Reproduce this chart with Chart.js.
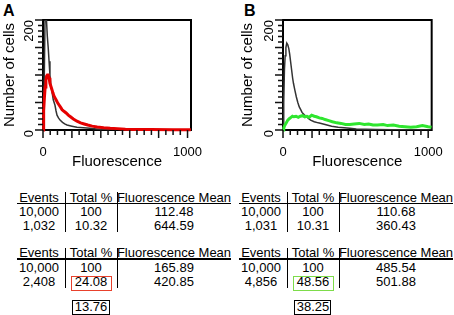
<!DOCTYPE html>
<html>
<head>
<meta charset="utf-8">
<script src="https://cdn.jsdelivr.net/npm/chart.js@4.4.0/dist/chart.umd.min.js"></script>
<style>
  html, body { margin: 0; padding: 0; background: #fff; }
  #page { position: relative; width: 454px; height: 315px; overflow: hidden; font-family: Arial, "Liberation Sans", sans-serif; color: #000; }
  .chart-box { position: absolute; top: 0; width: 227px; height: 171px; }
  .letter { position: absolute; font-weight: bold; font-size: 16px; line-height: 16px; }
  .cell { position: absolute; width: 120px; text-align: center; font-size: 13px; line-height: 14px; white-space: nowrap; }
  .rule { position: absolute; background: #000; }
  .box { position: absolute; box-sizing: border-box; }
</style>
</head>
<body>
<div id="page">
  <div class="letter" style="left:3px;top:3px">A</div>
  <div class="letter" style="left:244px;top:3px">B</div>
  <div class="chart-box" style="left:0"><canvas id="chart-a"></canvas></div>
  <div class="chart-box" style="left:227px"><canvas id="chart-b"></canvas></div>
</div>
<script>
// histogram A: control (black) and stained (red)
const fluorACtrl = [0, 6, 10, 14, 24, 30, 36, 42, 48, 55, 62, 71, 83, 90, 97, 107, 118, 135, 150, 166, 200, 235, 280, 325, 370, 420, 480, 550, 1023];
const cellsACtrl = [0, 40, 120, 200, 200, 170, 150, 125, 100, 80, 70, 55, 45, 35, 27, 22, 18, 14, 11, 9, 7, 5, 4, 3, 2, 1, 1, 0, 0];
const fluorAStain = [0, 3, 6, 10, 15, 20, 25, 30, 36, 42, 48, 54, 60, 68, 76, 84, 92, 100, 110, 120, 132, 145, 160, 175, 190, 210, 235, 260, 285, 310, 340, 375, 420, 465, 515, 570, 640, 750, 900, 1023];
const cellsAStain = [0, 15, 35, 60, 78, 90, 98, 100, 100, 95, 85, 80, 75, 68, 62, 58, 54, 50, 46, 42, 37, 34, 31, 27, 24, 20, 16, 13, 11, 9, 7, 5.5, 4, 3, 2.5, 1.5, 1, 1, 0.5, 0.5];

// histogram B: control (black) and stained (green)
const fluorBCtrl = [0, 5, 10, 15, 20, 26, 33, 40, 46, 52, 59, 66, 72, 82, 92, 102, 112, 122, 131, 145, 158, 175, 190, 215, 243, 290, 335, 380, 420, 460, 505, 570, 637, 750, 1023];
const cellsBCtrl = [0, 50, 110, 135, 150, 158, 155, 148, 138, 125, 110, 95, 85, 72, 60, 50, 42, 37, 32, 28, 25, 21, 18, 15, 13, 10, 7, 5, 4, 3, 2, 1.5, 1, 0.5, 0];
const fluorBStain = [0, 5, 10, 20, 33, 45, 55, 65, 75, 90, 105, 120, 135, 150, 165, 180, 197, 215, 230, 250, 270, 290, 315, 340, 370, 400, 430, 460, 490, 525, 560, 590, 620, 650, 690, 720, 760, 800, 840, 880, 920, 960, 1000, 1023];
const cellsBStain = [0, 3, 7, 12, 18, 21, 23, 25, 24, 25, 23, 25, 26, 24, 25, 23, 27, 25, 24, 22, 21, 19, 17, 15, 13, 12, 10, 10, 11, 12, 10, 11, 9, 9, 10, 8, 9, 7, 6, 5, 6, 8, 6, 5];

const xTicks = [0, 50, 100, 150, 200, 250, 300, 350, 400, 450, 500, 550, 600, 650, 700, 750, 800, 850, 900, 950, 1000];
const yTicks = [0, 10, 20, 30, 40, 50, 60, 70, 80, 90, 100, 110, 120, 130, 140, 150, 160, 170, 180, 190, 200];
const xLabels = [0, 1000];
const yLabels = [0, 200];

// tables under the plots
const tableHeader = ["Events", "Total %", "Fluorescence Mean"];
const tableA1 = [["10,000", "100", "112.48"], ["1,032", "10.32", "644.59"]];
const tableA2 = [["10,000", "100", "165.89"], ["2,408", "24.08", "420.85"]];
const tableB1 = [["10,000", "100", "110.68"], ["1,031", "10.31", "360.43"]];
const tableB2 = [["10,000", "100", "485.54"], ["4,856", "48.56", "501.88"]];
const differenceA = "13.76";
const differenceB = "38.25";

Chart.defaults.font.family = "Arial, 'Liberation Sans', sans-serif";
Chart.defaults.color = "#000";

// black frame around the plot area
const framePlugin = {
    id: "frame",
    beforeDatasetsDraw(chart) {
        const { ctx, chartArea: a } = chart;
        ctx.save();
        ctx.strokeStyle = "#000";
        ctx.lineWidth = 2;
        ctx.strokeRect(a.left, a.top, a.right - a.left, a.bottom - a.top);
        ctx.restore();
    },
};

// minor / major tick marks outside the axes
const tickPlugin = {
    id: "tickMarks",
    afterDatasetsDraw(chart) {
        const ctx = chart.ctx;
        const xs = chart.scales.x;
        const ys = chart.scales.y;
        const a = chart.chartArea;
        ctx.save();
        ctx.strokeStyle = "#111";
        ctx.lineWidth = 1.5;
        ctx.beginPath();
        xTicks.forEach((v) => {
            const px = xs.getPixelForValue(v);
            const len = v % 200 === 0 ? 8 : 5;
            ctx.moveTo(px, a.bottom);
            ctx.lineTo(px, a.bottom + len);
        });
        yTicks.forEach((v) => {
            const py = ys.getPixelForValue(v);
            const len = v % 50 === 0 ? 8 : 5;
            ctx.moveTo(a.left, py);
            ctx.lineTo(a.left - len, py);
        });
        ctx.stroke();
        ctx.restore();
    },
};

function makeLine(label, xs, ys, color, width, noClip) {
    const ds = {
        label: label,
        data: xs.map((v, i) => ({ x: v, y: ys[i] })),
        borderColor: color,
        borderWidth: width,
        pointRadius: 0,
        tension: 0,
    };
    if (noClip) ds.clip = false;
    return ds;
}

function createHistogram(id, datasets, padLeft, padRight, yWidth, titlePad) {
    new Chart(document.getElementById(id), {
        type: "line",
        data: { datasets: datasets },
        plugins: [framePlugin, tickPlugin],
        options: {
            responsive: true,
            maintainAspectRatio: false,
            animation: false,
            layout: { padding: { left: padLeft, right: padRight, top: 20, bottom: 0 } },
            plugins: { legend: { display: false }, tooltip: { enabled: false } },
            scales: {
                x: {
                    type: "linear",
                    min: 0,
                    max: 1024,
                    afterBuildTicks: (s) => { s.ticks = xTicks.map((v) => ({ value: v })); },
                    afterFit: (s) => { s.height = 41; },
                    ticks: {
                        autoSkip: false,
                        maxRotation: 0,
                        padding: 11,
                        font: { size: 13 },
                        callback: (v) => (xLabels.includes(v) ? String(v) : ""),
                    },
                    grid: { drawOnChartArea: false, drawTicks: true, tickLength: 4, tickColor: "rgba(0,0,0,0)" },
                    border: { color: "#000", width: 2 },
                    title: { display: true, text: "Fluorescence", font: { size: 15 }, padding: { top: 0, bottom: 0 } },
                },
                y: {
                    min: 0,
                    max: 200,
                    afterBuildTicks: (s) => { s.ticks = yTicks.map((v) => ({ value: v })); },
                    afterFit: (s) => { s.width = yWidth; },
                    ticks: {
                        autoSkip: false,
                        minRotation: 90,
                        maxRotation: 90,
                        padding: 9,
                        font: { size: 13 },
                        callback: (v) => (yLabels.includes(v) ? String(v) : ""),
                    },
                    grid: { drawOnChartArea: false, drawTicks: true, tickLength: 5, tickColor: "rgba(0,0,0,0)" },
                    border: { color: "#000", width: 2 },
                    title: { display: true, text: "Number of cells", font: { size: 15 }, padding: { top: titlePad, bottom: 0 } },
                },
            },
        },
    });
}

createHistogram("chart-a", [
    makeLine("Stained", fluorAStain, cellsAStain, "#e60000", 3, true),
    makeLine("Control", fluorACtrl, cellsACtrl, "#333", 1.5, false),
], 0, 36, 43, 1);

createHistogram("chart-b", [
    makeLine("Stained", fluorBStain, cellsBStain, "#2fe62f", 3, true),
    makeLine("Control", fluorBCtrl, cellsBCtrl, "#333", 1.5, false),
], 12, 15, 44, 0);

/*
-------------------------------------------------------------------------
Tables
-------------------------------------------------------------------------
*/
const page = document.getElementById("page");

function addDiv(cls, css, text) {
    const d = document.createElement("div");
    d.className = cls;
    d.style.cssText = css;
    if (text !== undefined) d.textContent = text;
    page.appendChild(d);
    return d;
}

function addTable(rows, dx, top, boxColor) {
    const centers = [39, 91, 174];
    tableHeader.forEach((h, i) => addDiv("cell", `left:${dx + centers[i] - 60}px;top:${top}px`, h));
    rows.forEach((r, j) => {
        r.forEach((t, i) => addDiv("cell", `left:${dx + centers[i] - 60}px;top:${top + 14.5 + j * 14}px`, t));
    });
    addDiv("rule", `left:${dx + 17}px;top:${top + 12}px;width:214px;height:1.5px`);
    addDiv("rule", `left:${dx + 64.5}px;top:${top + 1.5}px;width:1.5px;height:40px`);
    addDiv("rule", `left:${dx + 116.5}px;top:${top + 1.5}px;width:1.5px;height:40px`);
    if (boxColor) {
        addDiv("box", `left:${dx + 71}px;top:${top + 30}px;width:41px;height:15px;border:1.5px solid ${boxColor}`);
    }
}

addTable(tableA1, 0, 190.5);
addTable(tableA2, 0, 246, "#e8412c");
addTable(tableB1, 222, 190.5);
addTable(tableB2, 222, 246, "#7ddc4a");

addDiv("box", "left:72px;top:300px;width:38px;height:15px;border:1.5px solid #000");
addDiv("cell", "left:31px;top:299.5px", differenceA);
addDiv("box", "left:294px;top:300px;width:37px;height:15px;border:1.5px solid #000");
addDiv("cell", "left:253px;top:299.5px", differenceB);
</script>
</body>
</html>
